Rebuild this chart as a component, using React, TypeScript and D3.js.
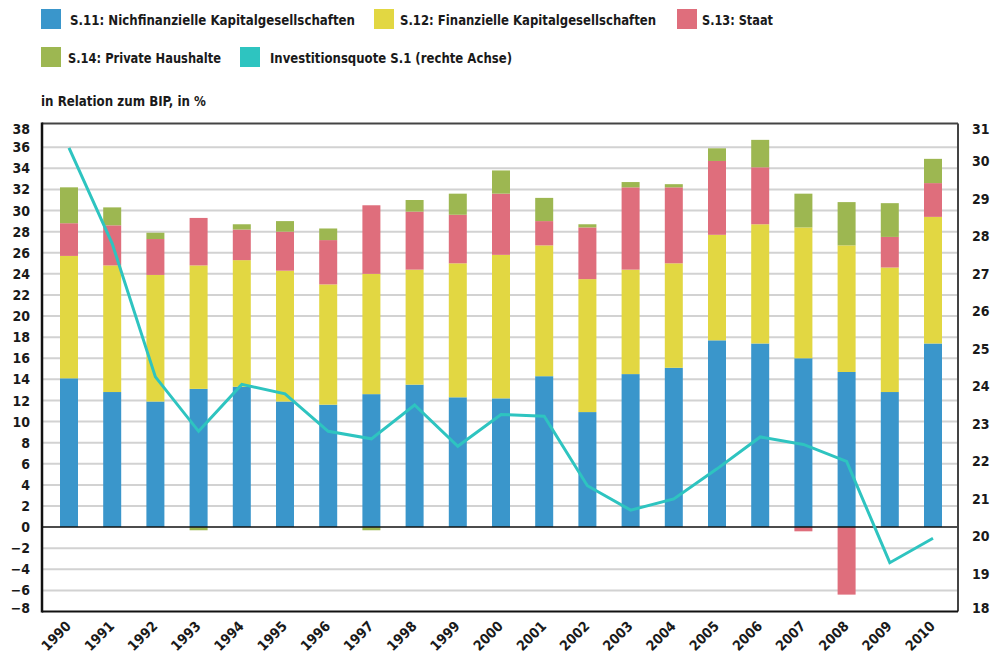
import * as d3 from "d3";
import React from "react";

const years = ["1990","1991","1992","1993","1994","1995","1996","1997","1998","1999","2000","2001","2002","2003","2004","2005","2006","2007","2008","2009","2010"];

// Finanzierungssalden in Relation zum BIP, in %
const s11 = [14.1, 12.8, 11.9, 13.1, 13.3, 11.9, 11.6, 12.6, 13.5, 12.3, 12.2, 14.3, 10.9, 14.5, 15.1, 17.7, 17.4, 16.0, 14.7, 12.8, 17.4];
const s12 = [11.6, 12.0, 12.0, 11.7, 12.0, 12.4, 11.4, 11.4, 10.9, 12.7, 13.6, 12.4, 12.6, 9.9, 9.9, 10.0, 11.3, 12.4, 12.0, 11.8, 12.0];
const s13 = [3.1, 3.8, 3.4, 4.5, 2.9, 3.7, 4.2, 6.5, 5.5, 4.6, 5.8, 2.3, 4.9, 7.8, 7.2, 7.0, 5.4, -0.4, -6.4, 2.9, 3.2];
const s14 = [3.4, 1.7, 0.6, -0.3, 0.5, 1.0, 1.1, -0.3, 1.1, 2.0, 2.2, 2.2, 0.3, 0.5, 0.3, 1.2, 2.6, 3.2, 4.1, 3.2, 2.3];

// Investitionsquote S.1 (rechte Achse)
const quote = [30.35, 27.8, 24.25, 22.8, 24.05, 23.8, 22.8, 22.6, 23.5, 22.4, 23.25, 23.2, 21.35, 20.7, 21.0, 21.8, 22.65, 22.45, 22.0, 19.3, 19.95];

const leftTicks = [-8, -6, -4, -2, 0, 2, 4, 6, 8, 10, 12, 14, 16, 18, 20, 22, 24, 26, 28, 30, 32, 34, 36, 38];
const rightTicks = [18, 19, 20, 21, 22, 23, 24, 25, 26, 27, 28, 29, 30, 31];

const seriesKeys = ["s11", "s12", "s13", "s14"];
const seriesColors: Record<string, string> = {
  s11: "#3a96cb",
  s12: "#e2d742",
  s13: "#df6e7c",
  s14: "#9db751",
};
const lineColor = "#2ec4c0";

const FONT = "'DejaVu Sans Condensed', 'DejaVu Sans', sans-serif";

const legendItems = [
  { label: "S.11: Nichfinanzielle Kapitalgesellschaften", color: seriesColors.s11, x: 41, y: 9, tx: 70, tw: 285 },
  { label: "S.12: Finanzielle Kapitalgesellschaften", color: seriesColors.s12, x: 374, y: 9, tx: 400, tw: 256 },
  { label: "S.13: Staat", color: seriesColors.s13, x: 677, y: 9, tx: 702, tw: 71 },
  { label: "S.14: Private Haushalte", color: seriesColors.s14, x: 41, y: 47, tx: 68, tw: 153 },
  { label: "Investitionsquote S.1 (rechte Achse)", color: lineColor, x: 240, y: 47, tx: 270, tw: 242 },
];

export default function App() {
  const left = 42, right = 958, top = 123.5, bottom = 611.5;

  const x = d3.scalePoint<string>().domain(years).range([69, 933]);
  const y = d3.scaleLinear().domain([-8, 38.25]).range([bottom, top]);
  const y2 = d3.scaleLinear().domain([18, 31]).range([bottom, top]);
  const barW = 18;

  const rows = years.map((yr, i) => ({ year: yr, s11: s11[i], s12: s12[i], s13: s13[i], s14: s14[i] }));
  const stacked = d3.stack<any>().keys(seriesKeys).offset(d3.stackOffsetDiverging)(rows);

  const line = d3.line<number>()
    .x((_, i) => x(years[i]) as number)
    .y(d => y2(d));

  return (
    <svg width={1000} height={653} style={{ display: "block", position: "absolute", left: 0, top: 0 }} fontFamily={FONT}>
      <rect width={1000} height={653} fill="#fff" />

      {legendItems.map(l => (
        <g key={l.label}>
          <rect x={l.x} y={l.y} width={20} height={20} fill={l.color} />
          <text x={l.tx} y={l.y + 16} fontSize={14} fontWeight="bold" fill="#1a1a1a"
            textLength={l.tw} lengthAdjust="spacingAndGlyphs">{l.label}</text>
        </g>
      ))}
      <text x={41} y={106} fontSize={14} fontWeight="bold" fill="#1a1a1a" textLength={165} lengthAdjust="spacingAndGlyphs">
        in Relation zum BIP, in %
      </text>

      {/* gridlines */}
      {leftTicks.filter(t => t !== 0 && t > -8 && t < 38).map(t => (
        <line key={t} x1={left} x2={right} y1={y(t)} y2={y(t)} stroke="#d2d2d2" strokeWidth={2} />
      ))}

      {/* bars */}
      {stacked.map(s => (
        <g key={s.key} fill={seriesColors[s.key]}>
          {s.map((d, i) => {
            const y0 = y(Math.max(d[0], d[1]));
            const y1 = y(Math.min(d[0], d[1]));
            return <rect key={i} x={(x(years[i]) as number) - barW / 2} y={y0} width={barW} height={Math.max(0, y1 - y0)} />;
          })}
        </g>
      ))}

      {/* zero line */}
      <line x1={left} x2={right} y1={y(0)} y2={y(0)} stroke="#111" strokeWidth={1.5} />

      {/* Investitionsquote */}
      <path d={line(quote) || ""} fill="none" stroke={lineColor} strokeWidth={3} strokeLinejoin="miter" />

      {/* frame */}
      <line x1={left} x2={right} y1={top} y2={top} stroke="#444" strokeWidth={2} />
      <line x1={right} x2={right} y1={top} y2={bottom} stroke="#444" strokeWidth={2} />
      <line x1={left} x2={right} y1={bottom} y2={bottom} stroke="#111" strokeWidth={2} />
      <line x1={left} x2={left} y1={top - 1} y2={bottom + 1} stroke="#111" strokeWidth={2.5} />

      {/* left axis */}
      {leftTicks.map(t => (
        <text key={t} x={30} y={Math.min(Math.max(y(t), 129), 608)} dy="0.36em" textAnchor="end" fontSize={14} fontWeight="bold" fill="#1a1a1a">
          {t < 0 ? "\u2212" + Math.abs(t) : t}
        </text>
      ))}

      {/* right axis */}
      {rightTicks.map(t => (
        <text key={t} x={972} y={Math.min(Math.max(y2(t), 129), 608)} dy="0.36em" textAnchor="start" fontSize={14} fontWeight="bold" fill="#1a1a1a">
          {t}
        </text>
      ))}

      {/* x axis labels */}
      {years.map(yr => {
        const px = (x(yr) as number) + 3;
        const py = 627;
        return (
          <text key={yr} x={px} y={py} transform={`rotate(-45,${px},${py})`} textAnchor="end" fontSize={14} fontWeight="bold" fill="#1a1a1a">
            {yr}
          </text>
        );
      })}
    </svg>
  );
}
